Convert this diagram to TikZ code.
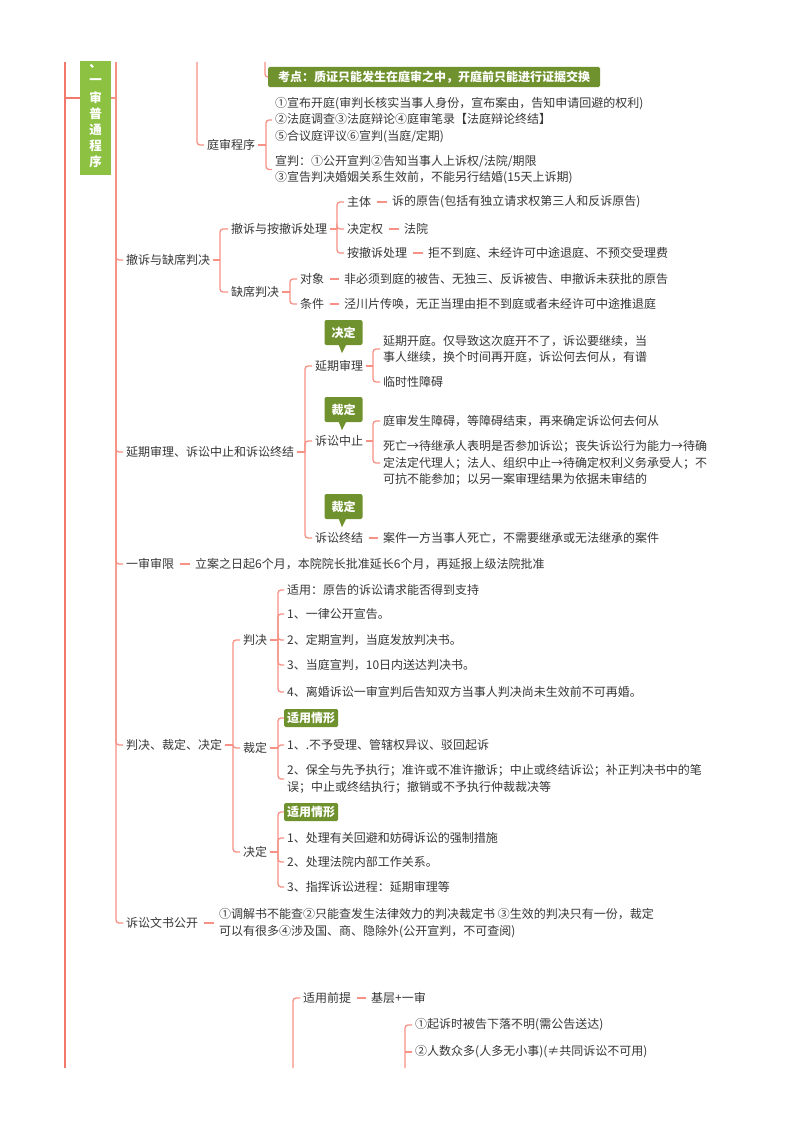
\documentclass[tikz,border=0pt]{standalone}
\usepackage{fontspec}
\setmainfont{Noto Sans CJK SC}
\definecolor{linec}{RGB}{247,145,133}
\definecolor{mainc}{RGB}{243,120,108}
\definecolor{titleg}{RGB}{140,193,66}
\definecolor{oliveg}{RGB}{112,146,46}
\definecolor{textc}{RGB}{55,55,55}
\tikzset{
 txt/.style={anchor=west,inner xsep=3pt,inner ysep=1pt,text=textc,align=left,font=\fontsize{12}{16.3}\selectfont},
 brk/.style={draw=linec,line width=1.3pt,rounded corners=3pt},
 dashl/.style={draw=linec,line width=1.3pt,shorten <=2.5pt,shorten >=2.5pt},
 mainl/.style={draw=mainc,line width=2.6pt},
 tag/.style={fill=oliveg,text=white,font=\fontsize{12}{14}\selectfont\bfseries,rounded corners=1.5pt,inner xsep=3pt,inner ysep=0pt,minimum height=18pt,anchor=west},
 kd/.style={tag,minimum height=20pt,minimum width=332pt,inner xsep=7pt},
 callbox/.style={fill=oliveg,text=white,font=\fontsize{12}{14}\selectfont\bfseries,rounded corners=2pt,minimum width=38pt,minimum height=25pt,inner sep=0pt},
 titlech/.style={text=white,font=\fontsize{12.5}{14}\selectfont\bfseries,inner sep=0pt},
}
\newcommand\tnode[4]{\node[txt] (#1) at (#2-3,#3) {#4};}
\newcommand\conn[3]{\draw[brk] (#1.east) -- (#1.east -| #2); \draw[brk] (#1.east -| #2) |- (#3.west);}
\newcommand\dashto[2]{\draw[dashl] (#1.east) -- (#2.west);}
\newcommand\tailbelow[1]{\fill[oliveg] ([xshift=-5pt,yshift=1pt]#1.south) -- ([xshift=3pt,yshift=1pt]#1.south) -- ([xshift=-1.5pt,yshift=-8pt]#1.south) -- cycle;}
\begin{document}
\begin{tikzpicture}[x=1pt,y=-1pt]
\fill[white] (0,0) rectangle (800,1132);
\useasboundingbox (0,0) rectangle (800,1132);

% bracket x positions
\coordinate (b0) at (116,0);
\coordinate (bT) at (266,0);
\coordinate (bA) at (220,0);
\coordinate (bB) at (337,0);
\coordinate (bC) at (290,0);
\coordinate (bD) at (305,0);
\coordinate (bE) at (373,0);
\coordinate (bF) at (373,0);
\coordinate (bG) at (233,0);
\coordinate (bH) at (278,0);
\coordinate (bI) at (278,0);
\coordinate (bJ) at (278,0);
\coordinate (bK) at (405,0);

% title (clipped at top)
\begin{scope}
\clip (0,62) rectangle (800,1132);
\node[fill=titleg,minimum width=31pt,minimum height=154pt,inner sep=0pt] (title) at (95.5,98) {};
\foreach \c/\yy [count=\i] in {一/50,、/66,一/82,审/98,普/114,通/130,程/146,序/162}
  \node[titlech] (tc\i) at (95.5,\yy) {\c};
\end{scope}

% main lines
\draw[mainl] (65,62) -- (65,1068);
\draw[draw=mainc,line width=1.8pt] (65,98) -- (title.west);
\draw[brk] (116,62) -- (116,98);

% top part
\node[kd] (kaodian) at (268,77) {考点：质证只能发生在庭审之中，开庭前只能进行证据交换};
\draw[brk] (265,62) |- (kaodian.west);
\tnode{tscx}{207}{145}{庭审程序}
\draw[brk] (197,62) |- (tscx.west);
\tnode{tsA}{275}{120}{①宣布开庭(审判长核实当事人身份，宣布案由，告知申请回避的权利)\\②法庭调查③法庭辩论④庭审笔录【法庭辩论终结】\\⑤合议庭评议⑥宣判(当庭/定期)}
\tnode{tsB}{275}{169.5}{宣判：①公开宣判②告知当事人上诉权/法院/期限\\③宣告判决婚姻关系生效前，不能另行结婚(15天上诉期)}
\conn{tscx}{bT}{tsA}
\conn{tscx}{bT}{tsB}

% level-1 children
\tnode{c1}{126}{260}{撤诉与缺席判决}
\tnode{c2}{126}{452}{延期审理、诉讼中止和诉讼终结}
\tnode{c3}{126}{564}{一审审限}
\tnode{c4}{126}{745}{判决、裁定、决定}
\tnode{c5}{126}{923}{诉讼文书公开}
\conn{title}{b0}{c1}
\conn{title}{b0}{c2}
\conn{title}{b0}{c3}
\conn{title}{b0}{c4}
\conn{title}{b0}{c5}

% c1
\tnode{c11}{231}{229}{撤诉与按撤诉处理}
\tnode{c12}{231}{292}{缺席判决}
\conn{c1}{bA}{c11}
\conn{c1}{bA}{c12}
\tnode{zt}{347}{202}{主体}
\tnode{jdq}{347}{229}{决定权}
\tnode{acs}{347}{253}{按撤诉处理}
\conn{c11}{bB}{zt}
\conn{c11}{bB}{jdq}
\conn{c11}{bB}{acs}
\tnode{ztv}{392}{202}{诉的原告(包括有独立请求权第三人和反诉原告)}
\tnode{jdqv}{404}{229}{法院}
\tnode{acsv}{428}{253}{拒不到庭、未经许可中途退庭、不预交受理费}
\dashto{zt}{ztv}
\dashto{jdq}{jdqv}
\dashto{acs}{acsv}
\tnode{dx}{300}{279}{对象}
\tnode{tj}{300}{304}{条件}
\conn{c12}{bC}{dx}
\conn{c12}{bC}{tj}
\tnode{dxv}{344}{279}{非必须到庭的被告、无独三、反诉被告、申撤诉未获批的原告}
\tnode{tjv}{344}{304}{泾川片传唤，无正当理由拒不到庭或者未经许可中途推退庭}
\dashto{dx}{dxv}
\dashto{tj}{tjv}

% c2
\tnode{yq}{315}{366}{延期审理}
\tnode{zz}{315}{441}{诉讼中止}
\tnode{zj}{315}{538}{诉讼终结}
\conn{c2}{bD}{yq}
\conn{c2}{bD}{zz}
\conn{c2}{bD}{zj}
\node[callbox] (cb1) at (343.5,332.5) {决定};
\tailbelow{cb1}
\node[callbox] (cb2) at (343.5,409.5) {裁定};
\tailbelow{cb2}
\node[callbox] (cb3) at (343.5,506.5) {裁定};
\tailbelow{cb3}
\tnode{yq1}{383}{349}{延期开庭。仅导致这次庭开不了，诉讼要继续，当\\事人继续，换个时间再开庭，诉讼何去何从，有谱}
\tnode{yq2}{383}{382}{临时性障碍}
\conn{yq}{bE}{yq1}
\conn{yq}{bE}{yq2}
\tnode{zz1}{383}{421}{庭审发生障碍，等障碍结束，再来确定诉讼何去何从}
\tnode{zz2}{383}{463}{死亡→待继承人表明是否参加诉讼；丧失诉讼行为能力→待确\\定法定代理人；法人、组织中止→待确定权利义务承受人；不\\可抗不能参加；以另一案审理结果为依据未审结的}
\conn{zz}{bF}{zz1}
\conn{zz}{bF}{zz2}
\tnode{zjv}{383}{538}{案件一方当事人死亡，不需要继承或无法继承的案件}
\dashto{zj}{zjv}

% c3
\tnode{c3v}{195}{564}{立案之日起6个月，本院院长批准延长6个月，再延报上级法院批准}
\dashto{c3}{c3v}

% c4
\tnode{pj}{243}{640}{判决}
\tnode{cd}{243}{748}{裁定}
\tnode{jd}{243}{852}{决定}
\conn{c4}{bG}{pj}
\conn{c4}{bG}{cd}
\conn{c4}{bG}{jd}
\tnode{pj1}{287}{590}{适用：原告的诉讼请求能否得到支持}
\tnode{pj2}{287}{614}{1、一律公开宣告。}
\tnode{pj3}{287}{640}{2、定期宣判，当庭发放判决书。}
\tnode{pj4}{287}{665}{3、当庭宣判，10日内送达判决书。}
\tnode{pj5}{287}{692}{4、离婚诉讼一审宣判后告知双方当事人判决尚未生效前不可再婚。}
\foreach \k in {1,...,5} {\conn{pj}{bH}{pj\k}}
\node[tag] (cdt) at (284,718) {适用情形};
\tnode{cd1}{287}{745}{1、.不予受理、管辖权异议、驳回起诉}
\tnode{cd2}{287}{779}{2、保全与先予执行；准许或不准许撤诉；中止或终结诉讼；补正判决书中的笔\\误；中止或终结执行；撤销或不予执行仲裁裁决等}
\conn{cd}{bI}{cdt}
\conn{cd}{bI}{cd1}
\conn{cd}{bI}{cd2}
\node[tag] (jdt) at (284,812) {适用情形};
\tnode{jd1}{287}{838}{1、处理有关回避和妨碍诉讼的强制措施}
\tnode{jd2}{287}{862}{2、处理法院内部工作关系。}
\tnode{jd3}{287}{887}{3、指挥诉讼进程：延期审理等}
\conn{jd}{bJ}{jdt}
\conn{jd}{bJ}{jd1}
\conn{jd}{bJ}{jd2}
\conn{jd}{bJ}{jd3}

% c5
\tnode{c5v}{219}{923}{①调解书不能查②只能查发生法律效力的判决裁定书 ③生效的判决只有一份，裁定\\可以有很多④涉及国、商、隐除外(公开宣判，不可查阅)}
\dashto{c5}{c5v}

% bottom
\tnode{sy}{303}{998}{适用前提}
\tnode{syv}{371}{998}{基层+一审}
\dashto{sy}{syv}
\draw[brk] (293,1068) |- (sy.west);
\tnode{q1}{415}{1025}{①起诉时被告下落不明(需公告送达)}
\tnode{q2}{415}{1052}{②人数众多(人多无小事)(≠共同诉讼不可用)}
\draw[brk] (405,1068) |- (q1.west);
\draw[brk] (q2.west -| bK) -- (q2.west);
\end{tikzpicture}
\end{document}
